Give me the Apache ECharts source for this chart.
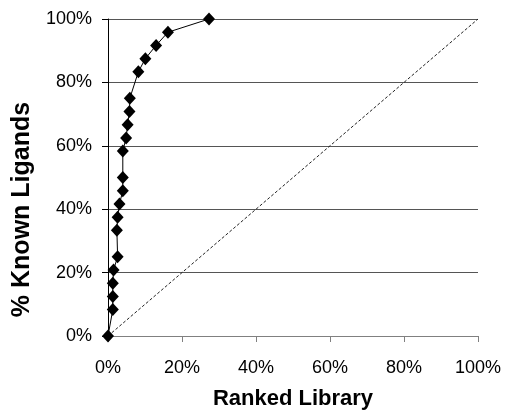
<!DOCTYPE html>
<html>
<head>
<meta charset="utf-8">
<script src="https://cdn.jsdelivr.net/npm/echarts@6/dist/echarts.min.js"></script>
<style>
  html, body { margin: 0; padding: 0; background: #fff; }
  #chart { width: 505px; height: 415px; }
</style>
</head>
<body>
<div id="chart"></div>
<script>
// Data (percent values)
var rankedLibrary = [0, 1.3, 1.3, 1.3, 1.5, 2.6, 2.4, 2.6, 3.1, 4.0, 4.0, 4.0, 4.9, 5.3, 5.8, 5.9, 8.2, 10.1, 13.0, 16.2, 27.3];
var knownLigands  = [0, 8.33, 12.5, 16.67, 20.83, 25, 33.33, 37.5, 41.67, 45.83, 50, 58.33, 62.5, 66.67, 70.83, 75, 83.33, 87.5, 91.67, 95.83, 100];
var randomX = [0, 100];
var randomY = [0, 100];
var xTicks = [0, 20, 40, 60, 80, 100];
var yTicks = [0, 20, 40, 60, 80, 100];
var xTitle = 'Ranked Library';
var yTitle = '% Known Ligands';

var curve = rankedLibrary.map(function (x, i) { return [x, knownLigands[i]]; });
var diag = randomX.map(function (x, i) { return [x, randomY[i]]; });

var FONT = "'Liberation Sans', Arial, sans-serif";
var chart = echarts.init(document.getElementById('chart'), null, { renderer: 'canvas' });
chart.setOption({
  animation: false,
  backgroundColor: '#fff',
  grid: { left: 108, right: 27, top: 19, bottom: 71, containLabel: false },
  xAxis: {
    type: 'value', min: xTicks[0], max: xTicks[xTicks.length - 1], interval: xTicks[1] - xTicks[0],
    name: xTitle, nameLocation: 'middle', nameGap: 52,
    nameTextStyle: { fontFamily: FONT, fontSize: 22, fontWeight: 'bold', color: '#000' },
    axisLine: { show: true, lineStyle: { color: '#808080', width: 1 } },
    axisTick: { show: true, inside: false, length: 6, lineStyle: { color: '#808080' } },
    axisLabel: { formatter: '{value}%', margin: 23, fontFamily: FONT, fontSize: 18, color: '#000' },
    splitLine: { show: false }
  },
  yAxis: {
    type: 'value', min: yTicks[0], max: yTicks[yTicks.length - 1], interval: yTicks[1] - yTicks[0],
    name: yTitle, nameLocation: 'middle', nameGap: 71, nameRotate: 90,
    nameTextStyle: { fontFamily: FONT, fontSize: 25, fontWeight: 'bold', color: '#000', padding: [0, 64, 0, 0] },
    axisLine: { show: true, lineStyle: { color: '#000', width: 1 } },
    axisTick: { show: true, inside: false, length: 6, lineStyle: { color: '#000' } },
    axisLabel: { formatter: '{value}%', margin: 16, fontFamily: FONT, fontSize: 18, color: '#000' },
    splitLine: { show: true, lineStyle: { color: '#555', width: 1 } }
  },
  series: [
    {
      type: 'line', data: diag, showSymbol: false, symbol: 'none', silent: true,
      lineStyle: { color: '#222', width: 1, type: [3, 2] }, z: 1
    },
    {
      type: 'line', data: curve, symbol: 'diamond', symbolSize: [12, 13],
      itemStyle: { color: '#000' },
      lineStyle: { color: '#000', width: 1 }, z: 3
    }
  ]
});
</script>
</body>
</html>
